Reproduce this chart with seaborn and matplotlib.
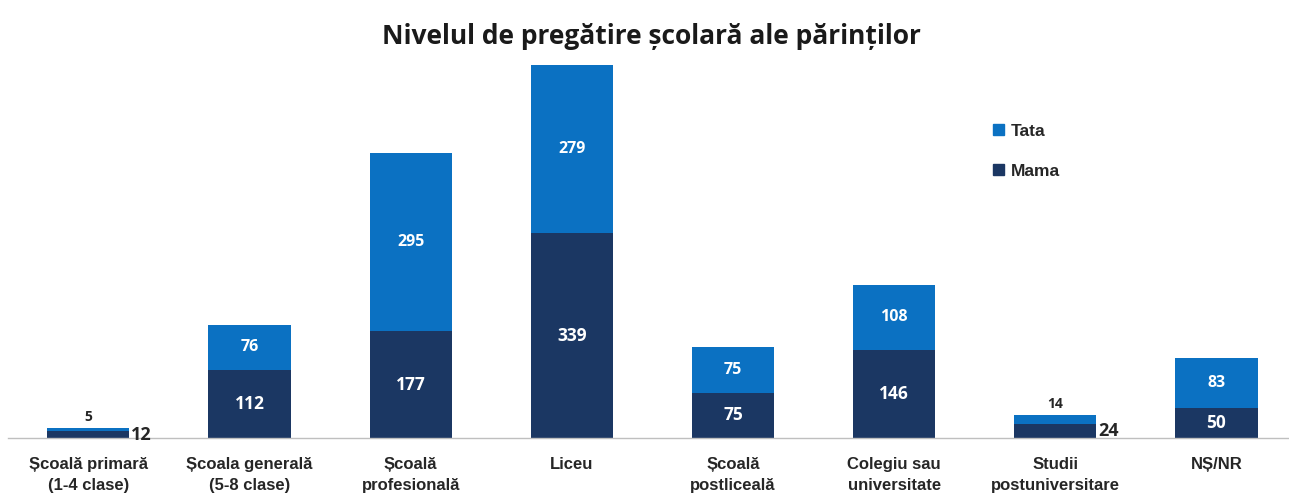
import matplotlib
matplotlib.use("Agg")
import matplotlib.pyplot as plt
import seaborn as sns
import pandas as pd
from matplotlib.patches import Patch

# data
categories = ["Școală primară\n(1-4 clase)", "Școala generală\n(5-8 clase)",
              "Școală\nprofesională", "Liceu", "Școală\npostliceală",
              "Colegiu sau\nuniversitate", "Studii\npostuniversitare", "NȘ/NR"]
mama = [12, 112, 177, 339, 75, 146, 24, 50]
tata = [5, 76, 295, 279, 75, 108, 14, 83]

col_mama = "#1b3763"
col_tata = "#0b71c2"
num_font = ["Open Sans", "DejaVu Sans"]

df = pd.DataFrame({"cat": categories, "Mama": mama, "Tata": tata})
df["total"] = df["Mama"] + df["Tata"]

sns.set_theme(style="white")
plt.rcParams["font.family"] = ["Liberation Sans", "DejaVu Sans"]

fig = plt.figure(figsize=(12.89, 5.0), dpi=100)
ax = fig.add_axes([0.006, 0.124, 0.994, 0.746])

# stacked bars: full height in Tata colour, Mama drawn over it
sns.barplot(data=df, x="cat", y="total", color=col_tata, width=0.51,
            saturation=1, ax=ax, linewidth=0)
sns.barplot(data=df, x="cat", y="Mama", color=col_mama, width=0.51,
            saturation=1, ax=ax, linewidth=0)

ax.set_xlim(-0.5, 7.45)
ax.set_ylim(0, 618)
ax.set_xlabel("")
ax.set_ylabel("")
ax.set_yticks([])
for s in ["top", "right", "left"]:
    ax.spines[s].set_visible(False)
ax.spines["bottom"].set_color("#bfbfbf")
ax.spines["bottom"].set_linewidth(1)
ax.tick_params(axis="x", length=0, pad=14)
ax.set_xticks(range(len(categories)))
ax.set_xticklabels(categories, fontsize=12, fontweight="bold", color="#262626",
                   linespacing=1.45)

half = 0.255
for i, (m, t) in enumerate(zip(mama, tata)):
    if m < 30:
        # thin bars: labels placed outside
        ax.text(i + half + 0.01, m / 2 - 1, str(m), ha="left", va="center",
                fontsize=13, fontweight="bold", color="#262626", family=num_font)
        ax.text(i, m + t + 6, str(t), ha="center", va="bottom",
                fontsize=10, fontweight="bold", color="#262626", family=num_font)
    else:
        ax.text(i, m / 2, str(m), ha="center", va="center",
                fontsize=12.5, fontweight="bold", color="white", family=num_font)
        ax.text(i, m + t / 2, str(t), ha="center", va="center",
                fontsize=11.5, fontweight="bold", color="white", family=num_font)

handles = [Patch(color=col_tata, label="Tata"), Patch(color=col_mama, label="Mama")]
ax.legend(handles=handles, loc="upper left", bbox_to_anchor=(0.757, 0.885),
          frameon=False, handlelength=0.6, handleheight=0.6, handletextpad=0.4,
          labelspacing=1.45, prop={"weight": "bold", "size": 12.5})

fig.text(0.505, 0.928, "Nivelul de pregătire școlară ale părinților",
         ha="center", va="center", fontsize=19, fontweight="bold",
         family=["Open Sans", "DejaVu Sans"], color="#1a1a1a")

fig.savefig("out.png", dpi=100, facecolor="white")
